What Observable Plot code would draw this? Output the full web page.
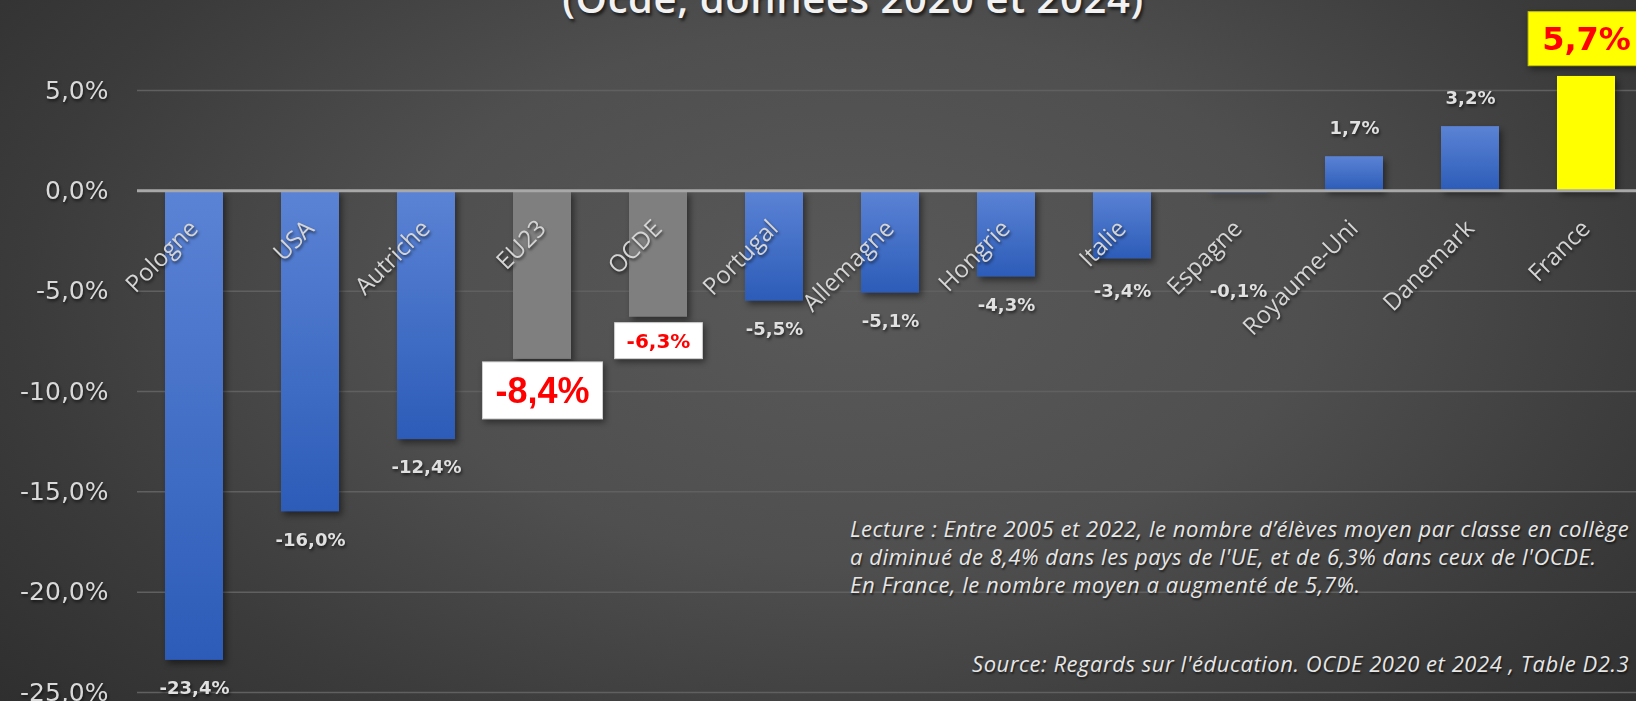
<!DOCTYPE html>
<html><head><meta charset="utf-8">
<script src="https://cdn.jsdelivr.net/npm/d3@7"></script>
<script src="https://cdn.jsdelivr.net/npm/@observablehq/plot@0.6"></script>
<style>
html,body{margin:0;padding:0;background:#3a3a3a;}
#chart{position:relative;width:1636px;height:701px;overflow:hidden;
 background: radial-gradient(ellipse 70% 95% at 52% 42%, #595959 0%, #4f4f4f 40%, #3b3b3b 72%, #2d2d2d 100%);}
#plot{position:absolute;left:0;top:0;}
#title{position:absolute;left:853px;top:-22px;transform:translateX(-50%);white-space:nowrap;font:600 40px/40px "Open Sans";letter-spacing:0.6px;color:#f2f2f2;text-shadow:2px 3px 3px rgba(0,0,0,.6);}
.note{position:absolute;white-space:nowrap;font:italic 22px/28px "Open Sans";letter-spacing:0.55px;color:#e6e6e6;text-shadow:1px 2px 2px rgba(0,0,0,.6);}
g.bar-blue, g.bar-gray, g.bar-yellow {filter: drop-shadow(3px 4px 3px rgba(0,0,0,.45));}
g.vlab, g.cat, g.ytl {filter: drop-shadow(1px 2px 1.5px rgba(0,0,0,.6));}
g.box-eu, g.box-ocde, g.box-fr {filter: drop-shadow(2px 3px 3px rgba(0,0,0,.45));}
</style></head><body>
<div id="chart">
  <div id="plot"></div>
  <div id="title"></div>
  <div class="note" id="lecture" style="left:850px;top:514px"></div>
  <div class="note" id="source" style="left:972px;top:649px"></div>
</div>
<script>
// ---- data ----
const countries = ["Pologne","USA","Autriche","EU23","OCDE","Portugal","Allemagne","Hongrie","Italie","Espagne","Royaume-Uni","Danemark","France"];
const values = [-23.4,-16.0,-12.4,-8.4,-6.3,-5.5,-5.1,-4.3,-3.4,-0.1,1.7,3.2,5.7];
const groups = ["pays","pays","pays","moyenne","moyenne","pays","pays","pays","pays","pays","pays","pays","france"];
const yTicks = [-25,-20,-15,-10,-5,0,5];
const titleText = "(Ocde, données 2020 et 2024)";
const lectureLines = [
  "Lecture : Entre 2005 et 2022, le nombre d’élèves moyen par classe en collège",
  "a diminué de 8,4% dans les pays de l'UE, et de 6,3% dans ceux de l'OCDE.",
  "En France, le nombre moyen a augmenté de 5,7%."
];
const sourceText = "Source: Regards sur l'éducation. OCDE 2020 et 2024 , Table D2.3";

// ---- build ----
const data = countries.map((c,i)=>({country:c, value:values[i], group:groups[i]}));
const fmt = v => v.toFixed(1).replace(".", ",") + "%";
const pays = data.filter(d=>d.group==="pays");
const moy = data.filter(d=>d.group==="moyenne");
const fr = data.filter(d=>d.group==="france");

document.getElementById("title").textContent = titleText;
document.getElementById("lecture").innerHTML = lectureLines.map(l=>l.replace(/&/g,"&amp;").replace(/</g,"&lt;")).join("<br>");
document.getElementById("source").textContent = sourceText;

const svg = Plot.plot({
  width:1636, height:701,
  marginLeft:137, marginRight:0, marginTop:0, marginBottom:0,
  style:{background:"transparent", overflow:"visible"},
  x:{domain:countries, range:[135.5,1645], paddingInner:0.5, paddingOuter:0.25, axis:null},
  y:{domain:[-25,5], range:[692,90], axis:null},
  marks:[
    Plot.ruleY(yTicks.filter(t=>t!==0), {y:d=>d, stroke:"#606060", strokeWidth:1.5}),
    Plot.text(yTicks, {y:d=>d, text:d=>fmt(d), frameAnchor:"left", textAnchor:"end", dx:-29,
      fontSize:25, fontFamily:"DejaVu Sans", fill:"#d9d9d9", className:"ytl"}),
    Plot.barY(pays, {x:"country", y:"value", fill:"#4a74c9", className:"bar-blue"}),
    Plot.barY(moy, {x:"country", y:"value", fill:"#7f7f7f", className:"bar-gray"}),
    Plot.barY(fr, {x:"country", y:"value", fill:"#ffff00", className:"bar-yellow"}),
    Plot.ruleY([0], {y:d=>d, stroke:"#a8a8a8", strokeWidth:3}),
    Plot.text(data, {x:"country", y:()=>0, text:"country", rotate:-45, textAnchor:"end", lineAnchor:"top",
      dx:-7, dy:27, fontSize:24, fontFamily:"Open Sans", fill:"#d4d4d4", className:"cat"}),
    Plot.text(pays.filter(d=>d.value<0), {x:"country", y:d=>Math.min(d.value,-3.6), text:d=>fmt(d.value), dy:28,
      fontSize:18, fontFamily:"DejaVu Sans", fontWeight:"bold", fill:"#e0e0e0", className:"vlab"}),
    Plot.text(pays.filter(d=>d.value>=0), {x:"country", y:"value", text:d=>fmt(d.value), dy:-28,
      fontSize:18, fontFamily:"DejaVu Sans", fontWeight:"bold", fill:"#e0e0e0", className:"vlab"}),
    Plot.text(moy.filter(d=>d.country==="EU23"), {x:"country", y:"value", text:d=>fmt(d.value), dy:32,
      fontSize:36, fontFamily:"Liberation Sans", fontWeight:"bold", fill:"#ff0000", className:"box-eu"}),
    Plot.text(moy.filter(d=>d.country==="OCDE"), {x:"country", y:"value", text:d=>fmt(d.value), dy:24,
      fontSize:20, fontFamily:"DejaVu Sans", fontWeight:"bold", fill:"#ff0000", className:"box-ocde"}),
    Plot.text(fr, {x:"country", y:"value", text:d=>fmt(d.value), dy:-37,
      fontSize:32, fontFamily:"DejaVu Sans", fontWeight:"bold", fill:"#ff0000", className:"box-fr"})
  ]
});
document.getElementById("plot").appendChild(svg);

// gradient for blue bars
const defs = d3.select(svg).insert("defs", ":first-child");
const lg = defs.append("linearGradient").attr("id","blueGrad").attr("x1",0).attr("y1",0).attr("x2",0).attr("y2",1);
lg.append("stop").attr("offset","0%").attr("stop-color","#5b83d5");
lg.append("stop").attr("offset","100%").attr("stop-color","#2c5cb8");
d3.select(svg).selectAll("g.bar-blue rect").attr("fill","url(#blueGrad)");

// boxes behind highlighted labels
function boxify(cls, fill, stroke, px, py){
  d3.select(svg).selectAll("g."+cls+" text").each(function(){
    const b = this.getBBox();
    const tr = this.getAttribute("transform");
    const r = document.createElementNS("http://www.w3.org/2000/svg","rect");
    r.setAttribute("x", b.x - px); r.setAttribute("y", b.y - py);
    r.setAttribute("width", b.width + 2*px); r.setAttribute("height", b.height + 2*py);
    if (tr) r.setAttribute("transform", tr);
    r.setAttribute("fill", fill); r.setAttribute("stroke", stroke); r.setAttribute("stroke-width", 1);
    this.parentNode.insertBefore(r, this);
  });
}
boxify("box-eu", "#ffffff", "#d0d0d0", 13, 8);
boxify("box-ocde", "#ffffff", "#d0d0d0", 12, 6);
boxify("box-fr", "#ffff00", "#c8c800", 14, 8);
</script>
</body></html>
